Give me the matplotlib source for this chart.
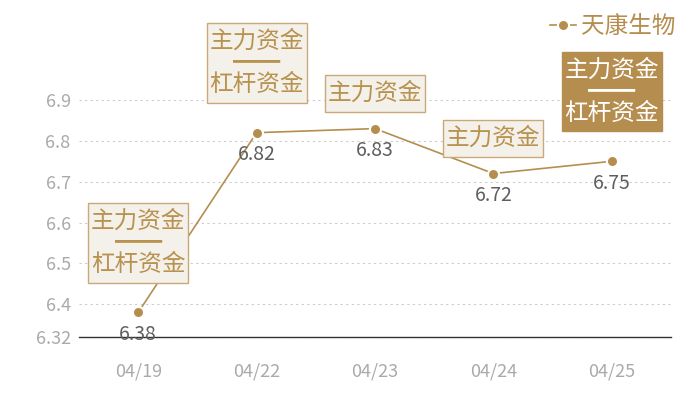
import matplotlib
matplotlib.use('Agg')
import matplotlib.pyplot as plt
from matplotlib.path import Path

plt.rcParams['font.family'] = ['Noto Sans CJK SC', 'DejaVu Sans']

# 数据
dates = ['04/19', '04/22', '04/23', '04/24', '04/25']
prices = [6.38, 6.82, 6.83, 6.72, 6.75]
tags = ['主力资金\n━━\n杠杆资金', '主力资金\n━━\n杠杆资金', '主力资金', '主力资金', '主力资金\n━━\n杠杆资金']
highlight = [False, False, False, False, True]
yticks = [6.32, 6.4, 6.5, 6.6, 6.7, 6.8, 6.9]

gold = '#b58e4f'


# 标签框：左右留白小，上下留白大
def tag_box(x0, y0, width, height, mutation_size):
    ph = 0.12 * mutation_size
    pv = 0.29 * mutation_size
    x0, y0 = x0 - ph, y0 - pv
    x1, y1 = x0 + width + 2 * ph, y0 + height + 2 * pv
    return Path([(x0, y0), (x1, y0), (x1, y1), (x0, y1), (x0, y0)], closed=True)


fig = plt.figure(figsize=(7, 4), dpi=100)
ax = fig.add_axes([79 / 700, 63 / 400, 592 / 700, 237 / 400])

x = range(len(dates))
ax.plot(x, prices, color=gold, linewidth=1.2, marker='o', markersize=8,
        markerfacecolor=gold, markeredgecolor='white', markeredgewidth=1.5,
        label='天康生物', zorder=2)

ax.set_xlim(-0.5, len(dates) - 0.5)
ax.set_ylim(6.32, 6.9)
ax.set_xticks(list(x))
ax.set_xticklabels(dates)
ax.set_yticks(yticks)
ax.set_yticklabels([f'{v:g}' for v in yticks])
ax.tick_params(axis='x', length=0, pad=18, labelsize=13, labelcolor='#aaaaaa')
ax.tick_params(axis='y', length=0, pad=6, labelsize=13, labelcolor='#aaaaaa')

for s in ['top', 'right', 'left']:
    ax.spines[s].set_visible(False)
ax.spines['bottom'].set_color('#333333')
ax.spines['bottom'].set_linewidth(1)
ax.yaxis.grid(True, linestyle=(0, (2, 3)), color='#cccccc', linewidth=0.8)
ax.set_axisbelow(True)

# 数值标签
for i, v in enumerate(prices):
    ax.annotate(f'{v:.2f}', (i, v), xytext=(0, -16), textcoords='offset points',
                ha='center', va='center', fontsize=14, color='#5e5e5e', zorder=4)

# 资金标签
for i, (v, t, h) in enumerate(zip(prices, tags, highlight)):
    two = '\n' in t
    off = 26.5 if two else 17
    if h:
        fc, ec, tc = gold, gold, 'white'
    else:
        fc, ec, tc = '#f4f0ea', '#c9a978', '#b8924f'
    ax.annotate(t, (i, v), xytext=(0, off), textcoords='offset points',
                ha='center', va='bottom', fontsize=17, color=tc,
                multialignment='center', linespacing=0.92, zorder=5,
                bbox=dict(boxstyle=tag_box, fc=fc, ec=ec, lw=1),
                annotation_clip=False)

fig.legend(loc='upper right', bbox_to_anchor=(0.995, 1.015), frameon=False,
           fontsize=17, labelcolor=gold, handlelength=1.1, handletextpad=0.2)

fig.savefig('out.png', dpi=100)
